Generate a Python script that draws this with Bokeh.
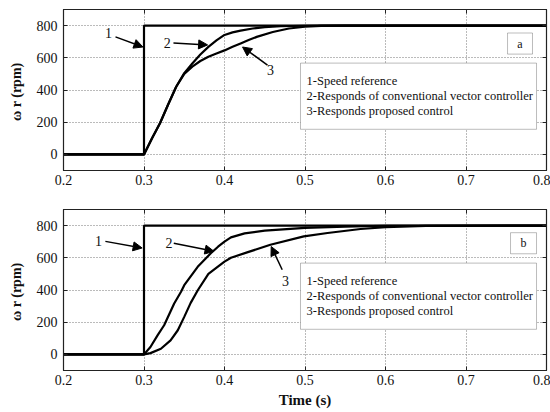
from bokeh.plotting import figure
from bokeh.layouts import column
from bokeh.models import (LinearAxis, Range1d, FixedTicker, Label, BoxAnnotation,
                          Arrow, NormalHead)
from bokeh.embed import file_html
from bokeh.resources import INLINE

# ---------------- data ----------------
x_ticks = [0.2, 0.3, 0.4, 0.5, 0.6, 0.7, 0.8]
y_ticks = [0, 200, 400, 600, 800]

t_ref = [0.2, 0.3, 0.3, 0.8]
w_ref = [0, 0, 800, 800]

# panel (a)
t_a2 = [0.2, 0.3, 0.31, 0.32, 0.33, 0.34, 0.35, 0.36, 0.37, 0.38, 0.39, 0.40,
        0.41, 0.42, 0.435, 0.45, 0.47, 0.50, 0.52, 0.8]
w_a2 = [0, 0, 100, 195, 310, 420, 505, 565, 620, 668, 708, 742,
        758, 769, 782, 790, 796, 799, 800, 800]
t_a3 = [0.2, 0.3, 0.31, 0.32, 0.33, 0.34, 0.35, 0.36, 0.37, 0.38, 0.39, 0.40,
        0.41, 0.42, 0.43, 0.44, 0.46, 0.48, 0.50, 0.52, 0.55, 0.8]
w_a3 = [0, 0, 100, 195, 310, 420, 500, 545, 580, 607, 627, 646,
        668, 689, 710, 730, 760, 782, 793, 798, 800, 800]

# panel (b)
t_b2 = [0.2, 0.3, 0.308, 0.317, 0.325, 0.3375, 0.346, 0.35, 0.3667, 0.383,
        0.392, 0.40, 0.408, 0.425, 0.45, 0.50, 0.55, 0.60, 0.8]
w_b2 = [0, 0, 46, 120, 181, 316, 389, 430, 544, 628,
        669, 700, 727, 752, 769, 786, 794, 799, 800]
t_b3 = [0.2, 0.3, 0.308, 0.321, 0.333, 0.342, 0.35, 0.358, 0.367, 0.38, 0.40,
        0.408, 0.429, 0.457, 0.4985, 0.528, 0.569, 0.60, 0.65, 0.8]
w_b3 = [0, 0, 8, 35, 87, 150, 233, 320, 400, 500, 576,
        600, 635, 681, 733, 754, 779, 790, 798, 800]

legend_lines = ["1-Speed reference",
                "2-Responds of conventional vector controller",
                "3-Responds proposed control"]

FONT = "Liberation Serif"


def make_panel(letter, t2, w2, t3, w3, marks, letter_box, height, border_bottom, xlabel):
    p = figure(width=550, height=height, output_backend="svg", toolbar_location=None,
               x_range=Range1d(0.2, 0.8), y_range=Range1d(-100, 900),
               min_border_left=63, min_border_right=4, min_border_top=9,
               min_border_bottom=border_bottom)
    p.outline_line_color = "#222222"
    p.outline_line_width = 1.2
    p.background_fill_color = "white"
    p.border_fill_color = "white"

    xa = p.xaxis[0]
    ya = p.yaxis[0]
    xa.ticker = FixedTicker(ticks=x_ticks)
    ya.ticker = FixedTicker(ticks=y_ticks)
    xa.major_label_overrides = {v: ("%.1f" % v) for v in x_ticks}
    for ax in (xa, ya):
        ax.major_label_text_font = FONT
        ax.major_label_text_font_size = "14px"
        ax.major_label_text_color = "#111111"
        ax.major_tick_in = 4
        ax.major_tick_out = 0
        ax.minor_tick_line_color = None
        ax.axis_line_color = "#222222"
        ax.major_tick_line_color = "#222222"
    xa.major_label_standoff = 4
    ya.major_label_standoff = 6

    ya.axis_label = "ω r  (rpm)"
    ya.axis_label_text_font = FONT
    ya.axis_label_text_font_size = "14px"
    ya.axis_label_text_font_style = "bold"
    ya.axis_label_text_color = "#111111"
    ya.axis_label_standoff = 10

    if xlabel:
        xa.axis_label = xlabel
        xa.axis_label_text_font = FONT
        xa.axis_label_text_font_size = "15px"
        xa.axis_label_text_font_style = "bold"
        xa.axis_label_text_color = "#111111"
        xa.axis_label_standoff = 4

    # box-style ticks on top and right (no labels)
    for loc, ticks in (("above", x_ticks), ("right", y_ticks)):
        ax = LinearAxis(ticker=FixedTicker(ticks=ticks),
                        major_label_overrides={v: "" for v in ticks},
                        major_label_text_font_size="1px",
                        major_tick_in=4, major_tick_out=0, minor_tick_line_color=None,
                        axis_line_color="#222222", major_tick_line_color="#222222",
                        major_label_standoff=0)
        p.add_layout(ax, loc)

    p.xgrid.ticker = FixedTicker(ticks=x_ticks)
    p.ygrid.ticker = FixedTicker(ticks=y_ticks)
    for g in (p.xgrid[0], p.ygrid[0]):
        g.grid_line_color = "#777777"
        g.grid_line_dash = "1 2"
        g.grid_line_width = 1

    p.line(t_ref, w_ref, line_color="black", line_width=2.2)
    p.line(t2, w2, line_color="black", line_width=2.2)
    p.line(t3, w3, line_color="black", line_width=2.2)

    # number labels and arrows
    for (txt, tx, ty, xs, ys, xe, ye) in marks:
        p.add_layout(Label(x=tx, y=ty, text=txt, text_font=FONT, text_font_size="14px",
                           text_align="center", text_baseline="middle", text_color="#111111"))
        p.add_layout(Arrow(x_start=xs, y_start=ys, x_end=xe, y_end=ye, line_width=1.5,
                           line_color="black",
                           end=NormalHead(size=9, fill_color="black", line_color="black")))

    # legend box
    p.add_layout(BoxAnnotation(left=0.4944, right=0.7876, bottom=156, top=567,
                               fill_color="white", fill_alpha=1.0,
                               line_color="#222222", line_width=1))
    for i, s in enumerate(legend_lines):
        p.add_layout(Label(x=0.502, y=455 - i * 92, text=s, text_font=FONT,
                           text_font_size="12.5px", text_align="left",
                           text_baseline="middle", text_color="#111111"))
    # panel letter box
    l, r, b, t = letter_box
    p.add_layout(BoxAnnotation(left=l, right=r, bottom=b, top=t, fill_color="white",
                               fill_alpha=1.0, line_color="#222222", line_width=1))
    p.add_layout(Label(x=(l + r) / 2, y=(b + t) / 2, text=letter, text_font=FONT,
                       text_font_size="12px", text_align="center", text_baseline="middle",
                       text_color="#111111"))
    return p


marks_a = [("1", 0.256, 754, 0.2646, 730, 0.2987, 667),
           ("2", 0.329, 692, 0.3366, 692, 0.379, 680),
           ("3", 0.457, 524, 0.4534, 555, 0.4224, 667)]
marks_b = [("1", 0.2435, 702, 0.252, 702, 0.2977, 661),
           ("2", 0.331, 690, 0.337, 690, 0.387, 640),
           ("3", 0.4758, 453, 0.4717, 526, 0.458, 670)]

p1 = make_panel("a", t_a2, w_a2, t_a3, w_a3, marks_a, (0.7516, 0.7826, 623, 754),
                200, 30, None)
p2 = make_panel("b", t_b2, w_b2, t_b3, w_b3, marks_b, (0.7553, 0.7876, 625, 756),
                212, 42, "Time (s)")

layout = column(p1, p2, spacing=0)
open("out.html", "w").write(file_html(layout, INLINE))
